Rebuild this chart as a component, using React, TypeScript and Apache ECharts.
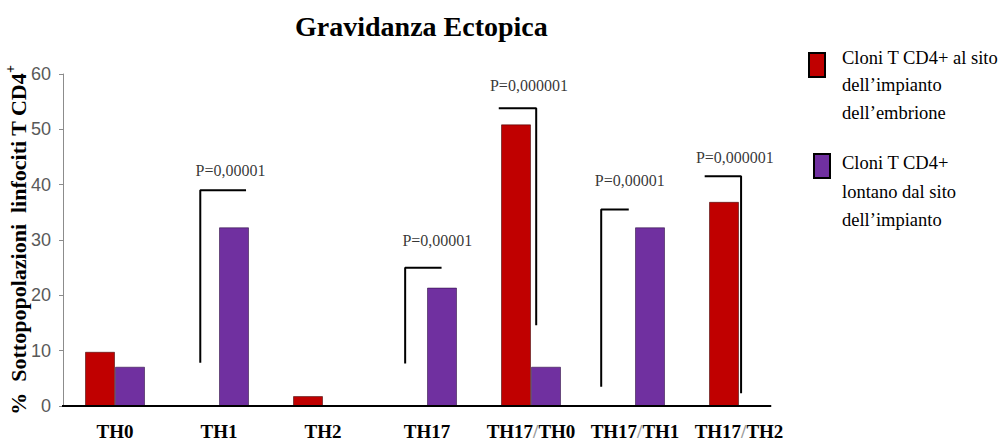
import React, { useEffect, useRef } from "react";
import * as echarts from "echarts";

// ---- data ----
const categories = ["TH0", "TH1", "TH2", "TH17", "TH17/TH0", "TH17/TH1", "TH17/TH2"];
const seriesNames = [
  "Cloni T CD4+ al sito dell’impianto dell’embrione",
  "Cloni T CD4+ lontano dal sito dell’impianto",
];
const redValues = [9.8, 0, 1.8, 0, 50.9, 0, 36.9];
const purpleValues = [7.1, 32.3, 0, 21.4, 7.1, 32.3, 0];
const yTicks = { min: 0, max: 60, interval: 10 };

// significance brackets, in category units (x) and axis values (y)
const bracketTH1 = [[0.82, 7.8], [0.82, 39.0], [1.26, 39.0]];
const bracketTH17 = [[2.79, 7.7], [2.79, 25.0], [3.14, 25.0]];
const bracketTH17TH0 = [[3.69, 53.8], [4.05, 53.8], [4.05, 14.6]];
const bracketTH17TH1 = [[4.675, 3.5], [4.675, 35.5], [4.94, 35.5]];
const bracketTH17TH2 = [[5.67, 41.5], [6.02, 41.5], [6.02, 2.3]];
const brackets = [bracketTH1, bracketTH17, bracketTH17TH0, bracketTH17TH1, bracketTH17TH2];

const pLabelX = [1.11, 3.1, 3.98, 4.95, 5.96];
const pLabelY = [42.6, 30.0, 58.0, 40.8, 45.0];
const pLabelText = ["P=0,00001", "P=0,00001", "P=0,000001", "P=0,00001", "P=0,000001"];

const baselineExtent = [-0.56, 6.31];

const legendLines1 = "Cloni T CD4+ al sito\ndell’impianto\ndell’embrione";
const legendLines2 = "Cloni T CD4+\nlontano dal sito\ndell’impianto";

const RED = "#C00000";
const PURPLE = "#7030A0";
const SERIF = "'Liberation Serif', 'Times New Roman', serif";
const NARROW = "'Liberation Sans Narrow', 'Liberation Sans', sans-serif";

export default function App() {
  const ref = useRef<HTMLDivElement>(null);

  useEffect(() => {
    if (!ref.current) return;
    const chart = echarts.init(ref.current, null, { renderer: "svg" });

    const bracketSeries = brackets.map((b, i) => ({
      type: "line",
      name: "bracket" + i,
      xAxisIndex: 1,
      yAxisIndex: 0,
      data: b,
      symbol: "none",
      clip: false,
      lineStyle: { color: "#000", width: 2 },
      z: 5,
    }));

    chart.setOption({
      animation: false,
      backgroundColor: "#fff",
      title: {
        text: "Gravidanza Ectopica",
        left: 295,
        top: 12,
        padding: 0,
        textStyle: { fontFamily: SERIF, fontWeight: "bold", fontSize: 28, color: "#000" },
      },
      grid: { left: 63, right: 212, top: 74, bottom: 35, containLabel: false, outerBoundsMode: "none" },
      xAxis: [
        {
          type: "category",
          data: categories,
          axisLine: { show: false },
          axisTick: { show: false },
          axisLabel: {
            margin: 16,
            interval: 0,
            formatter: (v: string) =>
              v.split("/").map((p) => "{a|" + p + "}").join("{s|/}"),
            rich: {
              a: { fontFamily: SERIF, fontWeight: "bold", fontSize: 19, color: "#000" },
              s: { fontFamily: SERIF, fontWeight: "bold", fontSize: 19, color: "#9a9a9a" },
            },
          },
        },
        { type: "value", min: -0.5, max: 6.5, show: false },
      ],
      yAxis: {
        type: "value",
        min: yTicks.min,
        max: yTicks.max,
        interval: yTicks.interval,
        name: "%  Sottopopolazioni  linfociti T CD4{sup|+}",
        nameLocation: "middle",
        nameRotate: 90,
        nameGap: 30,
        nameMoveOverlap: false,
        nameTextStyle: {
          fontFamily: SERIF,
          fontWeight: "bold",
          fontSize: 22,
          color: "#000",
          rich: {
            sup: { fontFamily: SERIF, fontWeight: "bold", fontSize: 14, color: "#000", padding: [0, 0, 16, 0] },
          },
        },
        axisLine: { show: true, onZero: false, lineStyle: { color: "#8c8c8c", width: 1 } },
        axisTick: { show: true, length: 4, lineStyle: { color: "#8c8c8c" } },
        splitLine: { show: false },
        axisLabel: { margin: 12, fontFamily: NARROW, fontSize: 18, color: "#595959" },
      },
      series: [
        {
          type: "bar",
          name: seriesNames[0],
          data: redValues,
          barWidth: 30,
          barGap: "0%",
          itemStyle: { color: RED, borderColor: "rgba(60,0,0,0.55)", borderWidth: 1 },
        },
        {
          type: "bar",
          name: seriesNames[1],
          data: purpleValues,
          barWidth: 30,
          barGap: "0%",
          itemStyle: { color: PURPLE, borderColor: "rgba(40,10,60,0.55)", borderWidth: 1 },
        },
        {
          type: "line",
          name: "baseline",
          xAxisIndex: 1,
          data: [[baselineExtent[0], 0], [baselineExtent[1], 0]],
          symbol: "none",
          clip: false,
          lineStyle: { color: "#000", width: 2 },
          z: 6,
        },
        ...bracketSeries,
        {
          type: "scatter",
          name: "pvalues",
          xAxisIndex: 1,
          symbolSize: 0,
          clip: false,
          data: pLabelX.map((x, i) => [x, pLabelY[i], pLabelText[i]]),
          label: {
            show: true,
            position: "inside",
            formatter: (p: any) => p.value[2],
            fontFamily: SERIF,
            fontSize: 16,
            color: "#000",
          },
          z: 7,
        },
      ],
      graphic: [
        {
          type: "rect",
          shape: { x: 809, y: 53, width: 16, height: 24 },
          style: { fill: RED, stroke: "#000", lineWidth: 2 },
        },
        {
          type: "text",
          x: 842,
          y: 44,
          style: {
            text: legendLines1,
            fontFamily: SERIF,
            fontSize: 18.5,
            lineHeight: 27.5,
            fill: "#000",
            verticalAlign: "top",
          },
        },
        {
          type: "rect",
          shape: { x: 814, y: 154, width: 16, height: 24 },
          style: { fill: PURPLE, stroke: "#000", lineWidth: 2 },
        },
        {
          type: "text",
          x: 842,
          y: 149,
          style: {
            text: legendLines2,
            fontFamily: SERIF,
            fontSize: 18.5,
            lineHeight: 28.5,
            fill: "#000",
            verticalAlign: "top",
          },
        },
      ],
    });

    return () => chart.dispose();
  }, []);

  return (
    <div
      ref={ref}
      style={{ position: "fixed", left: 0, top: 0, width: 1003, height: 441 }}
    />
  );
}
